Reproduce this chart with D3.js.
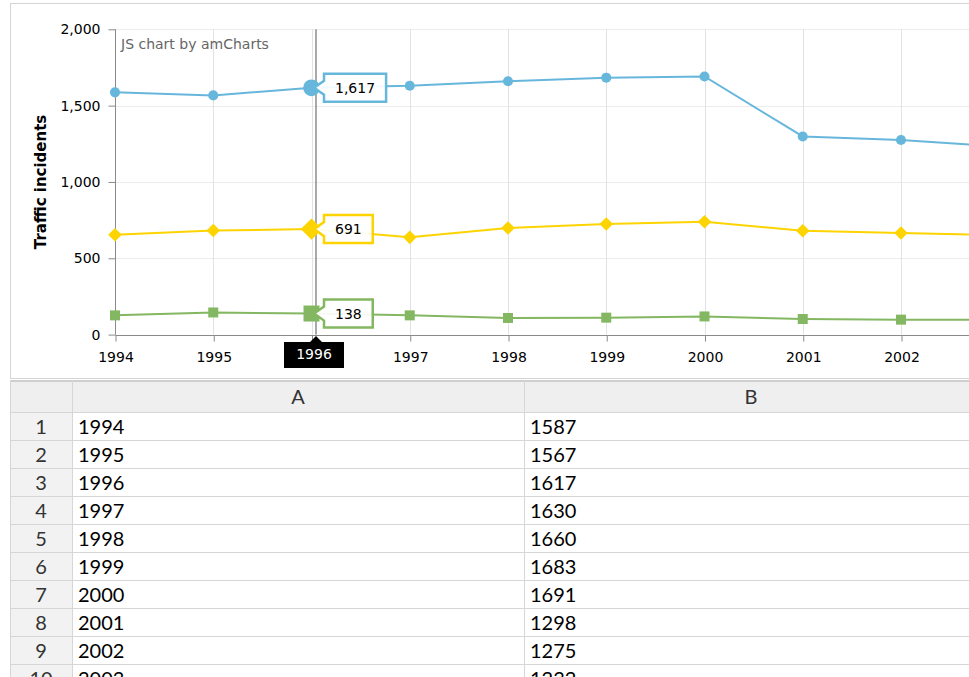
<!DOCTYPE html>
<html>
<head>
<meta charset="utf-8">
<script src="https://cdn.jsdelivr.net/npm/d3@7"></script>
<style>
  html, body { margin: 0; padding: 0; background: #fff; overflow: hidden; width: 969px; height: 677px; }
  svg { display: block; }
</style>
</head>
<body>
<script>
// ---- data ----
const categories = ["1994","1995","1996","1997","1998","1999","2000","2001","2002","2003"];
const seriesBlue   = [1587,1567,1617,1630,1660,1683,1691,1298,1275,1232];
const seriesYellow = [654,682,691,637,698,724,739,680,665,652];
const seriesGreen  = [126,145,138,126,109,111,119,102,98,97];
const yTicks = [0,500,1000,1500,2000];
const yTitle = "Traffic incidents";
const creditText = "JS chart by amCharts";
const hoverCategory = "1996";
const tableHeaders = ["A","B"];
const tableColA = categories;
const tableColB = seriesBlue;

// ---- layout ----
const W = 969, H = 677;
const svg = d3.select("body").append("svg").attr("width", W).attr("height", H);
const FONT = "Verdana, 'DejaVu Sans', sans-serif";
const TFONT = "Lato, 'Open Sans', sans-serif";
const FS = 14;

svg.append("defs").append("clipPath").attr("id", "vp").append("rect")
  .attr("x", 0).attr("y", 0).attr("width", W).attr("height", H);
const root = svg.append("g").attr("clip-path", "url(#vp)");

const x = d3.scalePoint().domain(categories).range([115, 115 + 98.25 * (categories.length - 1)]);
const y = d3.scaleLinear().domain([0, 2000]).range([334.6, 29.3]);

const colors = { blue: "#67b7dc", yellow: "#fdd400", green: "#84b761" };

// chart frame
root.append("rect").attr("x", 10.5).attr("y", 3.5).attr("width", W + 20).attr("height", 375)
  .attr("fill", "#fff").attr("stroke", "#d4d4d4");

const plot = root.append("g");
plot.selectAll(".hg").data(yTicks).join("line")
  .attr("x1", 115).attr("x2", W).attr("y1", d => Math.round(y(d)) + 0.5).attr("y2", d => Math.round(y(d)) + 0.5)
  .attr("stroke", "#ececec");
plot.selectAll(".vg").data(categories).join("line")
  .attr("x1", d => Math.round(x(d)) + 0.5).attr("x2", d => Math.round(x(d)) + 0.5)
  .attr("y1", y(2000)).attr("y2", y(0)).attr("stroke", "#e2e2e2");

// y axis
const yAxis = d3.axisLeft(y).tickValues(yTicks).tickSize(7).tickPadding(8).tickFormat(d3.format(","));
const gy = root.append("g").attr("transform", "translate(115.5,0)").call(yAxis);
gy.select(".domain").attr("stroke", "#8a8a8a").attr("d", `M0,${y(2000)}V${y(0)}`);
gy.selectAll(".tick line").attr("stroke", "#8a8a8a");
gy.selectAll(".tick text").attr("font-family", FONT).attr("font-size", FS).attr("fill", "#000");

// x axis (labels only for categories inside the visible area)
const xAxis = d3.axisBottom(x).tickSize(6).tickPadding(11);
const gx = root.append("g").attr("transform", `translate(0.5,${Math.round(y(0)) + 0.5})`).call(xAxis);
gx.select(".domain").attr("stroke", "#8a8a8a").attr("d", `M115,0H${W}`);
gx.selectAll(".tick line").attr("stroke", "#8a8a8a");
gx.selectAll(".tick text").attr("font-family", FONT).attr("font-size", FS).attr("fill", "#000")
  .attr("opacity", d => d === hoverCategory ? 0 : 1);
gx.selectAll(".tick").filter(d => x(d) + 20 > W).select("text").remove();

// y title
root.append("text").attr("transform", `translate(46,${(y(0) + y(2000)) / 2}) rotate(-90)`)
  .attr("text-anchor", "middle").attr("font-family", FONT).attr("font-weight", "bold")
  .attr("font-size", 15).text(yTitle);

// credit
root.append("text").attr("x", 121).attr("y", 49).attr("font-family", FONT).attr("font-size", FS)
  .attr("fill", "#666").text(creditText);

// cursor
const cx = x(hoverCategory) + 4.5;
root.append("line").attr("x1", cx).attr("x2", cx).attr("y1", y(2000)).attr("y2", y(0))
  .attr("stroke", "#555").attr("stroke-width", 1);

// series
const series = [
  { key: "blue", values: seriesBlue, shape: d3.symbolCircle, size: 80, hsize: 220, rot: 0 },
  { key: "yellow", values: seriesYellow, shape: d3.symbolSquare, size: 92, hsize: 230, rot: 45 },
  { key: "green", values: seriesGreen, shape: d3.symbolSquare, size: 100, hsize: 256, rot: 0 }
];
const line = d3.line().x((d, i) => x(categories[i])).y(d => y(d));
series.forEach(s => {
  const g = root.append("g");
  g.append("path").attr("d", line(s.values)).attr("fill", "none")
    .attr("stroke", colors[s.key]).attr("stroke-width", 2);
  g.selectAll("path.b").data(s.values).join("path").attr("class", "b")
    .attr("transform", (d, i) => `translate(${x(categories[i])},${y(d)}) rotate(${s.rot})`)
    .attr("d", (d, i) => d3.symbol().type(s.shape).size(categories[i] === hoverCategory ? s.hsize : s.size)())
    .attr("fill", colors[s.key]);
});

// value balloons
const hi = categories.indexOf(hoverCategory);
series.forEach(s => {
  const v = s.values[hi];
  const cy = y(v);
  const g = root.append("g");
  const t = g.append("text").attr("font-family", FONT).attr("font-size", FS).attr("fill", "#000")
    .text(d3.format(",")(v));
  const tw = t.node().getComputedTextLength();
  const left = cx + 8, bw = tw + 22, top = cy - 14, bh = 28;
  const p = `M${left},${top}H${left + bw}V${top + bh}H${left}V${cy + 7}L${cx - 2},${cy}L${left},${cy - 7}Z`;
  g.insert("path", "text").attr("d", p).attr("fill", "#fff").attr("fill-opacity", 0.92)
    .attr("stroke", colors[s.key]).attr("stroke-width", 2.5);
  t.attr("x", left + bw / 2).attr("y", cy + 5).attr("text-anchor", "middle");
});

// category balloon
{
  const g = root.append("g");
  const bx = cx - 32, bw = 60, by = 342, bh = 26;
  g.append("path").attr("d", `M${bx},${by}H${cx - 6}L${cx},${by - 6}L${cx + 6},${by}H${bx + bw}V${by + bh}H${bx}Z`)
    .attr("fill", "#000");
  g.append("text").attr("x", bx + bw / 2).attr("y", by + 17).attr("text-anchor", "middle")
    .attr("font-family", FONT).attr("font-size", FS).attr("fill", "#fff").text(hoverCategory);
}

// ---- table ----
const tTop = 380, hH = 32, rH = 28;
const cols = [10, 72, 524, 978];
const tg = root.append("g");
tg.append("rect").attr("x", 10).attr("y", tTop).attr("width", W).attr("height", hH).attr("fill", "#efefef");
const rows = tableColA.map((a, i) => ({ n: i + 1, a, b: tableColB[i] }));
tg.selectAll("rect.rn").data(rows).join("rect").attr("class", "rn")
  .attr("x", 10).attr("y", (d, i) => tTop + hH + i * rH).attr("width", 62).attr("height", rH).attr("fill", "#f2f2f2");
tg.append("line").attr("x1", 10).attr("x2", W).attr("y1", tTop + 1).attr("y2", tTop + 1).attr("stroke", "#cfcfcf").attr("stroke-width", 2);
tg.selectAll("line.rl").data(d3.range(rows.length + 1)).join("line").attr("class", "rl")
  .attr("x1", 10).attr("x2", W).attr("y1", i => tTop + hH + i * rH + 0.5).attr("y2", i => tTop + hH + i * rH + 0.5)
  .attr("stroke", "#d6d6d6");
tg.selectAll("line.cl").data(cols.slice(1, 3)).join("line").attr("class", "cl")
  .attr("x1", d => d + 0.5).attr("x2", d => d + 0.5).attr("y1", tTop).attr("y2", H)
  .attr("stroke", "#d6d6d6");
tg.append("line").attr("x1", 10.5).attr("x2", 10.5).attr("y1", tTop).attr("y2", H).attr("stroke", "#d6d6d6");
tg.selectAll("text.h").data(tableHeaders).join("text").attr("class", "h")
  .attr("x", (d, i) => (cols[i + 1] + cols[i + 2]) / 2).attr("y", tTop + 24)
  .attr("text-anchor", "middle").attr("font-family", TFONT).attr("font-size", 20).attr("fill", "#333").text(d => d);
const rowG = tg.selectAll("g.row").data(rows).join("g").attr("class", "row")
  .attr("transform", (d, i) => `translate(0,${tTop + hH + i * rH})`);
rowG.append("text").attr("x", 41).attr("y", 22).attr("text-anchor", "middle")
  .attr("font-family", TFONT).attr("font-size", 20).attr("fill", "#333").text(d => d.n);
rowG.append("text").attr("x", 78).attr("y", 22)
  .attr("font-family", TFONT).attr("font-size", 20).attr("fill", "#000").text(d => d.a);
rowG.append("text").attr("x", 530).attr("y", 22)
  .attr("font-family", TFONT).attr("font-size", 20).attr("fill", "#000").text(d => d.b);
</script>
</body>
</html>
